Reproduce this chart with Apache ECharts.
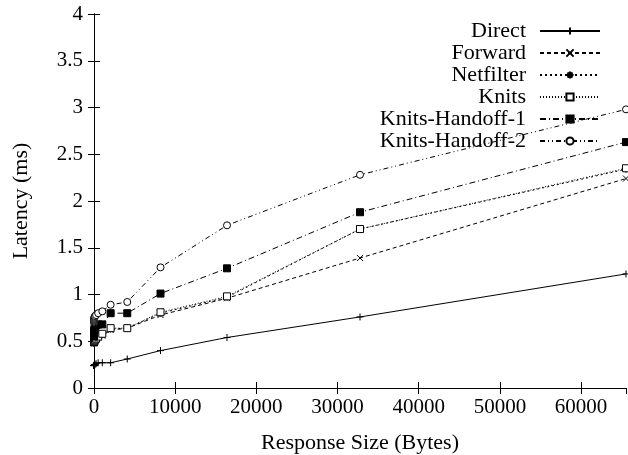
<!DOCTYPE html>
<html>
<head>
<meta charset="utf-8">
<script src="https://cdn.jsdelivr.net/npm/echarts@6/dist/echarts.min.js"></script>
<style>html,body{margin:0;padding:0;background:#fff}#c{width:628px;height:455px}</style>
</head>
<body>
<div id="c"></div>
<script>
const sizes = [1,2,4,8,16,32,64,128,256,512,1024,2048,4096,8192,16384,32768,65536];
const seriesNames = ['Direct','Forward','Netfilter','Knits','Knits-Handoff-1','Knits-Handoff-2'];
const direct    = [0.24,0.24,0.24,0.24,0.24,0.245,0.25,0.25,0.26,0.27,0.27,0.27,0.31,0.40,0.54,0.76,1.22];
const forward   = [0.49,0.49,0.49,0.49,0.50,0.50,0.50,0.51,0.52,0.54,0.56,0.62,0.64,0.78,0.96,1.39,2.24];
const netfilter = [0.48,0.48,0.49,0.49,0.49,0.50,0.50,0.51,0.52,0.54,0.57,0.63,0.64,0.80,0.97,1.70,2.34];
const knits     = [0.49,0.49,0.49,0.50,0.50,0.50,0.51,0.52,0.53,0.55,0.58,0.64,0.64,0.81,0.98,1.70,2.35];
const handoff1  = [0.55,0.56,0.57,0.58,0.60,0.62,0.64,0.66,0.67,0.68,0.68,0.80,0.80,1.01,1.28,1.88,2.63];
const handoff2  = [0.70,0.71,0.72,0.73,0.74,0.75,0.76,0.77,0.78,0.80,0.82,0.89,0.92,1.29,1.74,2.28,2.98];
const allValues = [direct, forward, netfilter, knits, handoff1, handoff2];

const FONT = "'Liberation Serif','Times New Roman',serif";
const styles = [
  {type:'solid', symbol:'path://M0,5L10,5M5,0L5,10', size:7, stroke:true},
  {type:[4,3], symbol:'path://M0,0L10,10M10,0L0,10', size:6, stroke:true},
  {type:[2,3], symbol:'path://M0,5L10,5M5,0L5,10M1.5,1.5L8.5,8.5M8.5,1.5L1.5,8.5', size:7, stroke:true},
  {type:[1,2], symbol:'rect', size:7, fill:'#fff'},
  {type:[6,3,1,3], symbol:'rect', size:7, fill:'#000'},
  {type:[5,3,1,3,1,3], symbol:'circle', size:7, fill:'#fff'}
];

const series = seriesNames.map((name, i) => {
  const st = styles[i];
  return {
    name, type:'line', xAxisIndex:0, yAxisIndex:0,
    data: sizes.map((s, j) => [s, allValues[i][j]]),
    symbol: st.symbol, symbolSize: st.size, showAllSymbol:true,
    lineStyle:{color:'#000', width:1, type:st.type},
    itemStyle: st.stroke ? {color:'rgba(0,0,0,0)', borderColor:'#000', borderWidth:1}
                         : {color:st.fill, borderColor:'#000', borderWidth:1},
    emphasis:{disabled:true},
    z: 2
  };
});

const legendRows = [31, 53, 75, 97, 119, 141];
const legends = seriesNames.map((name, i) => ({
  data:[name], orient:'vertical', right:27, top:legendRows[i]-11, padding:0,
  align:'right', itemWidth:60, itemHeight:9, selectedMode:false,
  textStyle:{fontFamily:FONT, fontSize:22, color:'#000', padding:[0,9,0,0]}
}));

const axisCommon = {
  axisLine:{show:true, lineStyle:{color:'#000', width:1}},
  axisTick:{show:true, inside:true, length:6, lineStyle:{color:'#000'}},
  splitLine:{show:false}
};

const chart = echarts.init(document.getElementById('c'), null, {renderer:'canvas'});
chart.setOption({
  animation:false,
  backgroundColor:'#fff',
  grid:{left:94, right:2, top:14, bottom:67, containLabel:false, outerBoundsMode:'none'},
  legend: legends,
  xAxis:[
    Object.assign({type:'value', position:'bottom', min:0, max:65536, interval:10000,
      name:'Response Size (Bytes)', nameLocation:'middle', nameGap:44,
      nameTextStyle:{fontFamily:FONT, fontSize:22, color:'#000'},
      axisLabel:{fontFamily:FONT, fontSize:21, color:'#000', margin:9, showMaxLabel:false, formatter:v=>String(v)}}, axisCommon),
    Object.assign({type:'value', position:'top', min:0, max:65536, interval:10000,
      axisLabel:{show:false}}, axisCommon)
  ],
  yAxis:[
    Object.assign({type:'value', position:'left', min:0, max:4, interval:0.5,
      name:'Latency (ms)', nameLocation:'middle', nameGap:62, nameRotate:90,
      nameTextStyle:{fontFamily:FONT, fontSize:22, color:'#000'},
      axisLabel:{fontFamily:FONT, fontSize:21, color:'#000', margin:11, formatter:v=>String(v)}}, axisCommon),
    Object.assign({type:'value', position:'right', min:0, max:4, interval:0.5,
      axisLabel:{show:false}}, axisCommon)
  ],
  series
});
</script>
</body>
</html>
